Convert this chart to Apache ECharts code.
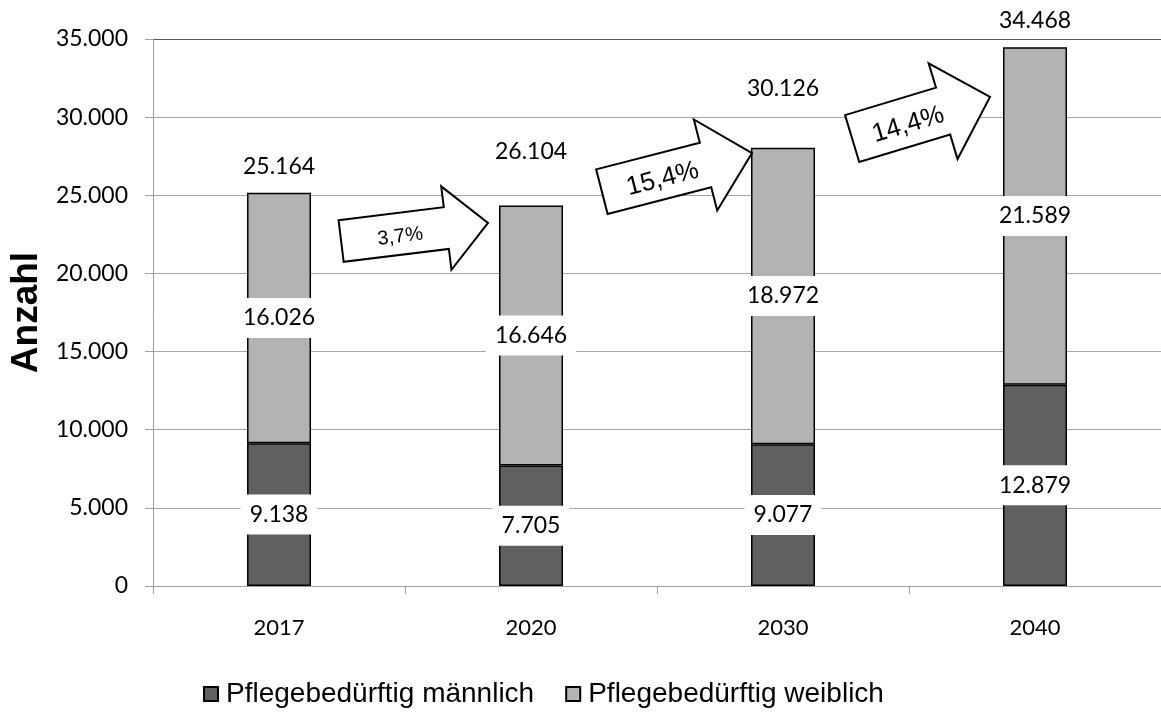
<!DOCTYPE html>
<html>
<head>
<meta charset="utf-8">
<title>Pflegebedürftige</title>
<script src="https://cdn.jsdelivr.net/npm/echarts@6/dist/echarts.min.js"></script>
<style>
  html, body { margin: 0; padding: 0; background: #fff; }
  #chart { width: 1161px; height: 712px; }
</style>
</head>
<body>
<div id="chart"></div>
<script>
// Jahre und Werte
var years = ['2017', '2020', '2030', '2040'];
var maleValues = [9138, 7705, 9077, 12879];
var femaleValues = [16026, 16646, 18972, 21589];
var totalValues = [25164, 26104, 30126, 34468];
var growthLabels = ['3,7%', '15,4%', '14,4%'];
var seriesNames = ['Pflegebedürftig männlich', 'Pflegebedürftig weiblich'];

var LABEL_FONT = 'Lato';
var ARIAL = 'Liberation Sans';

function fmt(v) {
  return String(v).replace(/\B(?=(\d{3})+(?!\d))/g, '.');
}

var chart = echarts.init(document.getElementById('chart'), null, { renderer: 'canvas' });

var innerLabel = {
  show: true,
  position: 'inside',
  formatter: function (p) { return fmt(p.value); },
  fontFamily: LABEL_FONT,
  fontSize: 23,
  color: '#000',
  backgroundColor: '#fff',
  padding: [9, 9, 8, 9]
};

var gridColors = ['#a6a6a6', '#a6a6a6', '#a6a6a6', '#a6a6a6', '#a6a6a6', '#a6a6a6', '#a6a6a6', '#595959'];

chart.setOption({
  animation: false,
  backgroundColor: '#fff',
  grid: { left: 150, top: 39, width: 1016, height: 547, containLabel: false },
  legend: {
    data: seriesNames,
    left: 203,
    top: 680,
    padding: 0,
    icon: 'rect',
    itemWidth: 14,
    itemHeight: 14,
    itemGap: 31,
    textStyle: { fontFamily: ARIAL, fontSize: 28, color: '#000', padding: [0, 0, 0, 3] }
  },
  xAxis: {
    type: 'category',
    data: years,
    axisLine: { lineStyle: { color: '#a0a0a0', width: 1 } },
    axisTick: { show: true, length: 8, lineStyle: { color: '#a0a0a0' } },
    axisLabel: { fontFamily: LABEL_FONT, fontSize: 22, color: '#000', margin: 31 }
  },
  yAxis: {
    type: 'value',
    min: 0,
    max: 35000,
    interval: 5000,
    name: 'Anzahl',
    nameLocation: 'middle',
    nameRotate: 90,
    nameGap: 98,
    nameTextStyle: { fontFamily: ARIAL, fontWeight: 'bold', fontSize: 37, color: '#000' },
    axisLine: { show: true, lineStyle: { color: '#a0a0a0', width: 1 } },
    axisTick: { show: true, length: 8, lineStyle: { color: '#a0a0a0' } },
    axisLabel: {
      fontFamily: LABEL_FONT, fontSize: 23, color: '#000', margin: 25,
      formatter: function (v) { return fmt(v); }
    },
    splitLine: { show: true, lineStyle: { color: gridColors, width: 1 } }
  },
  series: [
    {
      name: seriesNames[0],
      type: 'bar',
      stack: 'pflege',
      barWidth: 64,
      data: maleValues,
      itemStyle: { color: '#606060', borderColor: '#000', borderWidth: 1.5 },
      label: innerLabel
    },
    {
      name: seriesNames[1],
      type: 'bar',
      stack: 'pflege',
      barWidth: 64,
      data: femaleValues,
      itemStyle: { color: '#b3b3b3', borderColor: '#000', borderWidth: 1.5 },
      label: innerLabel
    },
    {
      name: 'Gesamt',
      type: 'bar',
      barWidth: 64,
      barGap: '-100%',
      data: totalValues,
      z: 1,
      silent: true,
      itemStyle: { color: 'rgba(0,0,0,0)', borderWidth: 0 },
      label: {
        show: true,
        position: 'top',
        distance: 15,
        formatter: function (p) { return fmt(p.value); },
        fontFamily: LABEL_FONT,
        fontSize: 23,
        color: '#000'
      }
    }
  ]
});

// Wachstumspfeile zwischen den Säulen, verankert an der Zielsäule
var arrowSpecs = [
  { target: 1, tipValue: 23230, dx: -43, angle: -7.0,  length: 148, bodyHalf: 21, headHalf: 42, headLen: 42, fontSize: 20 },
  { target: 2, tipValue: 27700, dx: -31, angle: -14.4, length: 155, bodyHalf: 23, headHalf: 47, headLen: 48, fontSize: 26 },
  { target: 3, tipValue: 31290, dx: -45, angle: -16.8, length: 144, bodyHalf: 24.5, headHalf: 50, headLen: 49, fontSize: 26 }
];

function drawArrows() {
  var elements = [];
  arrowSpecs.forEach(function (s, i) {
    var anchor = chart.convertToPixel({ gridIndex: 0 }, [s.target, s.tipValue]);
    var tx = anchor[0] + s.dx, ty = anchor[1];
    var a = s.angle * Math.PI / 180;
    var ca = Math.cos(a), sa = Math.sin(a);
    function pt(u, v) { return [tx + u * ca - v * sa, ty + u * sa + v * ca]; }
    var L = s.length, bh = s.bodyHalf, hh = s.headHalf, hl = s.headLen;
    var pts = [
      pt(-L, -bh), pt(-hl, -bh), pt(-hl, -hh), pt(0, 0),
      pt(-hl, hh), pt(-hl, bh), pt(-L, bh)
    ];
    elements.push({
      type: 'polygon',
      shape: { points: pts },
      style: { fill: '#fff', stroke: '#000', lineWidth: 2, lineJoin: 'miter' },
      z: 100
    });
    var c = pt(-L * 0.6, 3);
    elements.push({
      type: 'text',
      x: c[0],
      y: c[1],
      rotation: -a,
      style: {
        text: growthLabels[i],
        fontFamily: ARIAL,
        fontSize: s.fontSize,
        fill: '#000',
        align: 'center',
        verticalAlign: 'middle'
      },
      z: 101
    });
  });
  chart.setOption({ graphic: { elements: elements } });
}
drawArrows();
</script>
</body>
</html>
